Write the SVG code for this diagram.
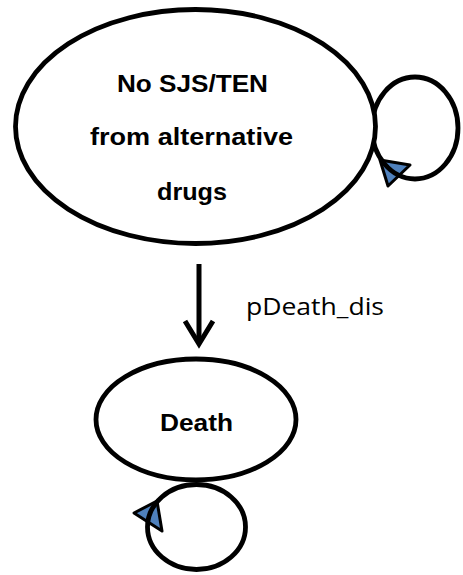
<svg xmlns="http://www.w3.org/2000/svg" width="463" height="575" viewBox="0 0 463 575">
<style>
.node{fill:#ffffff;stroke:#000000;stroke-width:4.8}
.loop{fill:none;stroke:#000000;stroke-width:4.8}
.head{fill:#4f81bd;stroke:#000000;stroke-width:3;stroke-linejoin:round}
.lbl{font-family:"Liberation Sans",Arial,sans-serif;font-weight:bold;font-size:24px;fill:#000000;text-anchor:middle}
.edge{font-family:"Open Sans","Liberation Sans",sans-serif;font-size:24px;fill:#000000}
</style>
<g id="connectors">
<polygon class="head" points="380,160 410,165 388,186"/>
<ellipse class="loop" cx="415" cy="128" rx="43" ry="51"/>
<polygon class="head" points="134,513 157,501 162,531"/>
<ellipse class="loop" cx="196.5" cy="527" rx="49" ry="42.5"/>
<line x1="199" y1="264" x2="199" y2="343" stroke="#000" stroke-width="5"/>
<polyline points="185,321 199,344 213,321" fill="none" stroke="#000" stroke-width="5" stroke-linejoin="miter"/>
<text class="edge" x="246" y="315" textLength="138" lengthAdjust="spacingAndGlyphs">pDeath_dis</text>
</g>
<g id="node-nosjs">
<ellipse class="node" cx="195.5" cy="126.5" rx="180" ry="117"/>
<text class="lbl" x="192.5" y="92" textLength="151" lengthAdjust="spacingAndGlyphs">No SJS/TEN</text>
<text class="lbl" x="191.5" y="145" textLength="203" lengthAdjust="spacingAndGlyphs">from alternative</text>
<text class="lbl" x="192" y="200" textLength="70" lengthAdjust="spacingAndGlyphs">drugs</text>
</g>
<g id="node-death">
<ellipse class="node" cx="196" cy="419.5" rx="100" ry="60.5"/>
<text class="lbl" x="196.5" y="431" textLength="73" lengthAdjust="spacingAndGlyphs">Death</text>
</g>
</svg>
